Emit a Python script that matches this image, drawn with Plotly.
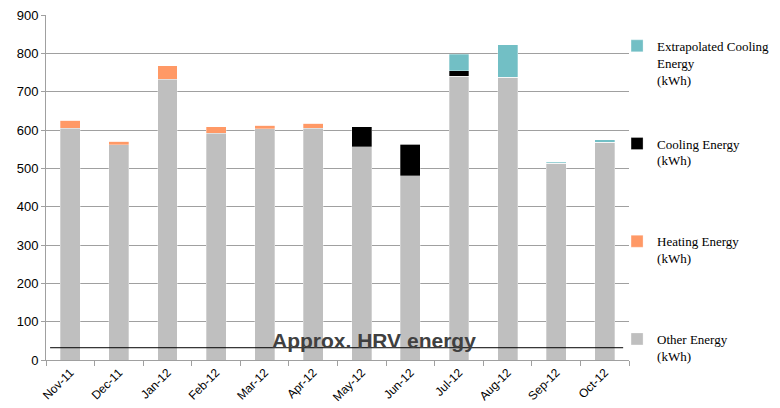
import plotly.graph_objects as go

months = ["Nov-11", "Dec-11", "Jan-12", "Feb-12", "Mar-12", "Apr-12",
          "May-12", "Jun-12", "Jul-12", "Aug-12", "Sep-12", "Oct-12"]
other_energy = [605, 561, 732, 592, 603, 604, 556, 481, 740, 738, 513, 568]
heating_energy = [20, 10, 36, 16, 10, 13, 0, 0, 0, 0, 0, 0]
cooling_energy = [0, 0, 0, 0, 0, 0, 52, 82, 14, 0, 0, 0]
extrap_cooling = [0, 0, 0, 0, 0, 0, 0, 0, 44, 85, 3, 7]
HRV_ENERGY = 32

series = [
    ("Other Energy<br>(kWh)<br> ", other_energy, "#BFBFBF"),
    ("Heating Energy<br>(kWh)<br> ", heating_energy, "#FF9966"),
    ("Cooling Energy<br>(kWh)<br> ", cooling_energy, "#000000"),
    ("Extrapolated Cooling<br>Energy<br>(kWh)", extrap_cooling, "#72BFC5"),
]

fig = go.Figure()
n = len(series)
for i, (name, vals, col) in enumerate(series):
    fig.add_trace(go.Bar(
        x=months, y=vals, name=name, marker_color=col,
        marker_line=dict(color="rgba(255,255,255,0.6)", width=0.5),
        legendgroup=f"g{i}", legendrank=n - i,
    ))

fig.add_shape(type="line", xref="paper", yref="y", x0=0.007, x1=0.99,
              y0=HRV_ENERGY, y1=HRV_ENERGY, line=dict(color="black", width=1))
fig.add_annotation(text="<b>Approx. HRV energy</b>", xref="paper", yref="y",
                   x=0.562, y=HRV_ENERGY, yanchor="middle", yshift=7,
                   showarrow=False,
                   font=dict(family="Arial, Liberation Sans", size=21, color="#404040"))

fig.update_layout(
    width=772, height=400,
    barmode="stack", bargap=0.59,
    plot_bgcolor="white", paper_bgcolor="white",
    margin=dict(l=38, r=151, t=7, b=48, autoexpand=False),
    font=dict(family="Arial, Liberation Sans", size=13, color="black"),
    legend=dict(
        traceorder="grouped", tracegroupgap=44, valign="top",
        x=0.9795, xanchor="left", y=0.954, yanchor="top",
        font=dict(family="Times New Roman, Liberation Serif", size=13, color="black"),
        itemwidth=30, bgcolor="rgba(0,0,0,0)",
    ),
    showlegend=True,
)
fig.update_yaxes(range=[0, 900], dtick=100, showgrid=True, gridcolor="#A0A0A0",
                 gridwidth=1, showline=True, linecolor="#A0A0A0", ticks="outside",
                 ticklen=4, tickcolor="#A0A0A0", zeroline=False,
                 tickfont=dict(size=13), ticklabeloverflow="allow")
fig.update_xaxes(showline=True, linecolor="#A0A0A0", ticks="outside",
                 tickson="boundaries", ticklen=5, tickcolor="#A0A0A0",
                 tickangle=-45, tickfont=dict(size=12), ticklabeloverflow="allow")

fig.write_html("out.html")
